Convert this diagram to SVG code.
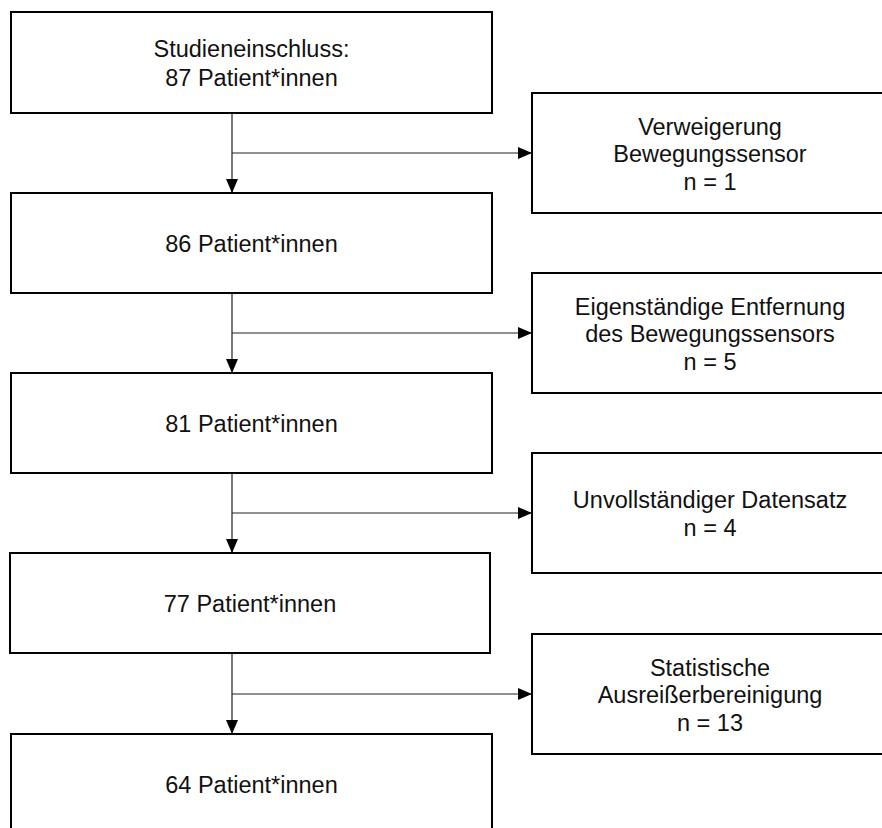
<svg xmlns="http://www.w3.org/2000/svg" width="882" height="828" viewBox="0 0 882 828">
<style>
.box{fill:#fff;stroke:#000;stroke-width:2}
.t{font-family:"Liberation Sans",Arial,Helvetica,sans-serif;font-size:23.5px;fill:#111;text-anchor:middle}
.c{stroke:#222;stroke-width:1.2;fill:none}
</style>
<defs>
<marker id="ah" viewBox="0 0 14 12" refX="14" refY="6" markerWidth="14" markerHeight="12" markerUnits="userSpaceOnUse" orient="auto">
<path d="M0,0 L14,6 L0,12 Z" fill="#000"/>
</marker>
</defs>
<rect width="882" height="828" fill="#fff"/>
<g id="connectors">
<line class="c" x1="232" y1="113" x2="232" y2="193" marker-end="url(#ah)"/>
<line class="c" x1="232" y1="153" x2="532" y2="153" marker-end="url(#ah)"/>
<line class="c" x1="232" y1="293" x2="232" y2="373" marker-end="url(#ah)"/>
<line class="c" x1="232" y1="333" x2="532" y2="333" marker-end="url(#ah)"/>
<line class="c" x1="232" y1="473" x2="232" y2="553" marker-end="url(#ah)"/>
<line class="c" x1="232" y1="513" x2="532" y2="513" marker-end="url(#ah)"/>
<line class="c" x1="232" y1="653" x2="232" y2="734" marker-end="url(#ah)"/>
<line class="c" x1="232" y1="694" x2="532" y2="694" marker-end="url(#ah)"/>
</g>
<g id="n87">
<rect class="box" x="11" y="12" width="481" height="101"/>
<text class="t" x="251.5" y="56.5">Studieneinschluss:</text>
<text class="t" x="251.5" y="85.5">87 Patient*innen</text>
</g>
<g id="n86">
<rect class="box" x="11" y="193" width="481" height="100"/>
<text class="t" x="251.5" y="251.5">86 Patient*innen</text>
</g>
<g id="n81">
<rect class="box" x="11" y="373" width="481" height="100"/>
<text class="t" x="251.5" y="431.5">81 Patient*innen</text>
</g>
<g id="n77">
<rect class="box" x="10" y="553" width="480" height="100"/>
<text class="t" x="250" y="611.5">77 Patient*innen</text>
</g>
<g id="n64">
<rect class="box" x="11" y="734" width="481" height="100"/>
<text class="t" x="251.5" y="792.5">64 Patient*innen</text>
</g>
<g id="ex1">
<rect class="box" x="532" y="93" width="356" height="120"/>
<text class="t" x="710" y="134.5">Verweigerung</text>
<text class="t" x="710" y="162">Bewegungssensor</text>
<text class="t" x="710" y="189.5">n = 1</text>
</g>
<g id="ex2">
<rect class="box" x="532" y="273" width="356" height="120"/>
<text class="t" x="710" y="314.5">Eigenständige Entfernung</text>
<text class="t" x="710" y="342">des Bewegungssensors</text>
<text class="t" x="710" y="369.5">n = 5</text>
</g>
<g id="ex3">
<rect class="box" x="532" y="453" width="356" height="120"/>
<text class="t" x="710" y="508">Unvollständiger Datensatz</text>
<text class="t" x="710" y="535.5">n = 4</text>
</g>
<g id="ex4">
<rect class="box" x="532" y="634" width="356" height="120"/>
<text class="t" x="710" y="675.5">Statistische</text>
<text class="t" x="710" y="703">Ausreißerbereinigung</text>
<text class="t" x="710" y="730.5">n = 13</text>
</g>
</svg>
